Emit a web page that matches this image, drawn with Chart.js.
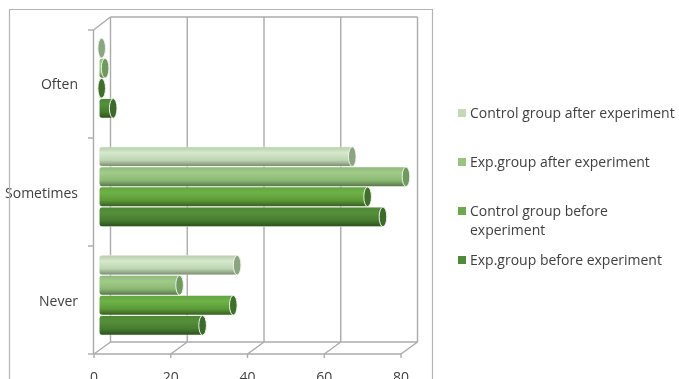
<!DOCTYPE html>
<html>
<head>
<meta charset="utf-8">
<title>Frequency by group</title>
<script src="https://cdn.jsdelivr.net/npm/chart.js@4"></script>
<style>
  html, body { margin: 0; padding: 0; background: #fff; overflow: hidden; }
  #wrap { width: 679px; height: 379px; position: relative; }
</style>
</head>
<body>
<div id="wrap"><canvas id="chart"></canvas></div>
<script>
const categories = ['Often', 'Sometimes', 'Never'];
const xTicks = [0, 20, 40, 60, 80];

const controlAfter  = [0.7, 66, 36];
const expAfter      = [1.6, 80, 21];
const controlBefore = [0.7, 70, 35];
const expBefore     = [3.7, 74, 27];

const labelControlAfter  = 'Control group after experiment';
const labelExpAfter      = 'Exp.group after experiment';
const labelControlBefore = ['Control group before', 'experiment'];
const labelExpBefore     = 'Exp.group before experiment';

const FONT = '"Open Sans", sans-serif';
const TEXT = '#404040';
const WALL = '#ababab';
const CATEGORY_PCT = 0.74;

// colour stops of each tube, top to bottom, then the end cap and legend swatch
const tubes = [
  { stops: ['#b4cba8', '#d6e9cc', '#bcd5b0', '#76866e'], cap: '#8ba583', swatch: '#c3d9b8' },
  { stops: ['#8fb67b', '#a0cb88', '#8cba74', '#566f4a'], cap: '#6f9a5f', swatch: '#9bc285' },
  { stops: ['#64a43f', '#6eb247', '#5b9a38', '#35591f'], cap: '#3f6f2a', swatch: '#6ea84e' },
  { stops: ['#4c8733', '#568f3c', '#467c2e', '#2b4c1c'], cap: '#3c6a2c', swatch: '#4f8a38' },
];

function tubeFill(ctx) {
  const { chart, dataIndex, datasetIndex } = ctx;
  const y = chart.scales.y;
  const fallback = tubes[datasetIndex] ? tubes[datasetIndex].swatch : '#888';
  if (!y) return fallback;
  const thick = y.height / categories.length * CATEGORY_PCT / tubes.length;
  const mid = y.getPixelForValue(dataIndex) + (datasetIndex - 1.5) * thick;
  // options also get resolved once before the layout has run
  if (!Number.isFinite(mid) || !Number.isFinite(thick)) return fallback;
  const g = chart.ctx.createLinearGradient(0, mid - thick / 2, 0, mid + thick / 2);
  const s = tubes[datasetIndex].stops;
  g.addColorStop(0, s[0]);
  g.addColorStop(0.3, s[1]);
  g.addColorStop(0.68, s[2]);
  g.addColorStop(1, s[3]);
  return g;
}

function makeSet(label, data) {
  return {
    label, data,
    backgroundColor: tubeFill,
    borderWidth: 0.6,
    borderColor: '#e4ebdf',
    borderSkipped: false,
    borderRadius: { topLeft: 3, bottomLeft: 3, topRight: 0, bottomRight: 0 },
  };
}

function line(c, x1, y1, x2, y2) {
  c.beginPath();
  c.moveTo(x1, y1);
  c.lineTo(x2, y2);
  c.stroke();
}

// The 3D box behind the bars: floor, side wall and back wall gridlines
const wallsPlugin = {
  id: 'walls',
  beforeDatasetsDraw(chart) {
    const c = chart.ctx, x = chart.scales.x, y = chart.scales.y;
    const bottom = y.bottom, top = y.top;
    c.save();

    // outer chart frame, open at the bottom
    c.strokeStyle = '#b4b4b4';
    c.lineWidth = 1.2;
    c.beginPath();
    c.moveTo(9.5, 379);
    c.lineTo(9.5, 9.5);
    c.lineTo(432.5, 9.5);
    c.lineTo(432.5, 379);
    c.stroke();

    c.strokeStyle = WALL;
    c.lineWidth = 1.4;
    const backTop = top - 7, backBottom = bottom - 7.5, frontTop = top + 6, frontBottom = bottom + 4.5;
    xTicks.forEach(v => {
      const px = x.getPixelForValue(v);
      line(c, px + 11.5, backTop, px + 11.5, backBottom);
      line(c, px + 11.5, backBottom, px - 5, frontBottom);
      line(c, px - 5, frontBottom, px - 5, frontBottom + 4);
    });
    const x0 = x.getPixelForValue(0), x80 = x.getPixelForValue(80);
    line(c, x0 + 11.5, backTop, x80 + 11.5, backTop);
    line(c, x0 + 11.5, backBottom, x80 + 11.5, backBottom);
    line(c, x0 - 5, frontBottom, x80 - 5, frontBottom);
    line(c, x0 - 5.5, frontTop, x0 - 5.5, frontBottom);
    line(c, x0 - 5.5, frontTop, x0 + 11.5, backTop);

    // category ticks on the side wall
    const step = (frontBottom - frontTop) / categories.length;
    for (let i = 0; i <= categories.length; i++) {
      line(c, x0 - 11, frontTop + i * step, x0 - 5.5, frontTop + i * step);
    }
    c.restore();
  },

  // elliptical end cap on each tube
  afterDatasetDraw(chart, args) {
    const c = chart.ctx;
    const tube = tubes[args.index];
    args.meta.data.forEach(bar => {
      c.save();
      c.beginPath();
      c.ellipse(bar.x, bar.y, 3.8, bar.height / 2 - 0.2, 0, 0, Math.PI * 2);
      c.fillStyle = tube.cap;
      c.fill();
      c.strokeStyle = '#eef3ea';
      c.lineWidth = 1;
      c.stroke();
      c.restore();
    });
  },

  afterDraw(chart) {
    const c = chart.ctx;
    const rows = [
      { set: 0, y: 114 },
      { set: 1, y: 163 },
      { set: 2, y: 212 },
      { set: 3, y: 261 },
    ];
    c.save();
    c.font = '14px ' + FONT;
    c.textBaseline = 'middle';
    rows.forEach(r => {
      c.fillStyle = tubes[r.set].swatch;
      c.fillRect(458, r.y - 5, 8, 8);
      c.fillStyle = TEXT;
      const lines = [].concat(chart.data.datasets[r.set].label);
      lines.forEach((t, i) => c.fillText(t, 470, r.y + i * 19));
    });
    c.restore();
  },
};

new Chart(document.getElementById('chart'), {
  type: 'bar',
  data: {
    labels: categories,
    datasets: [
      makeSet(labelControlAfter, controlAfter),
      makeSet(labelExpAfter, expAfter),
      makeSet(labelControlBefore, controlBefore),
      makeSet(labelExpBefore, expBefore),
    ],
  },
  options: {
    indexAxis: 'y',
    responsive: true,
    maintainAspectRatio: false,
    animation: false,
    categoryPercentage: CATEGORY_PCT,
    barPercentage: 1,
    layout: { padding: { left: 0, top: 24, right: 273, bottom: 0 } },
    plugins: { legend: { display: false }, tooltip: { enabled: false } },
    scales: {
      x: {
        min: 0,
        max: 80,
        grid: { display: false, drawTicks: false },
        border: { display: false },
        ticks: {
          stepSize: 20,
          maxRotation: 0,
          padding: 20,
          labelOffset: -5,
          color: TEXT,
          font: { family: FONT, size: 14 },
        },
        afterFit(scale) { scale.height = 29.5; },
      },
      y: {
        grid: { display: false, drawTicks: false },
        border: { display: false },
        ticks: {
          padding: 21,
          labelOffset: 7,
          color: TEXT,
          font: { family: FONT, size: 14 },
        },
        afterFit(scale) {
          scale.width = 99;
          // the tick padding would otherwise inset the plot from the top
          scale.paddingTop = 0;
          scale.paddingBottom = 0;
        },
      },
    },
  },
  plugins: [wallsPlugin],
});
</script>
</body>
</html>
